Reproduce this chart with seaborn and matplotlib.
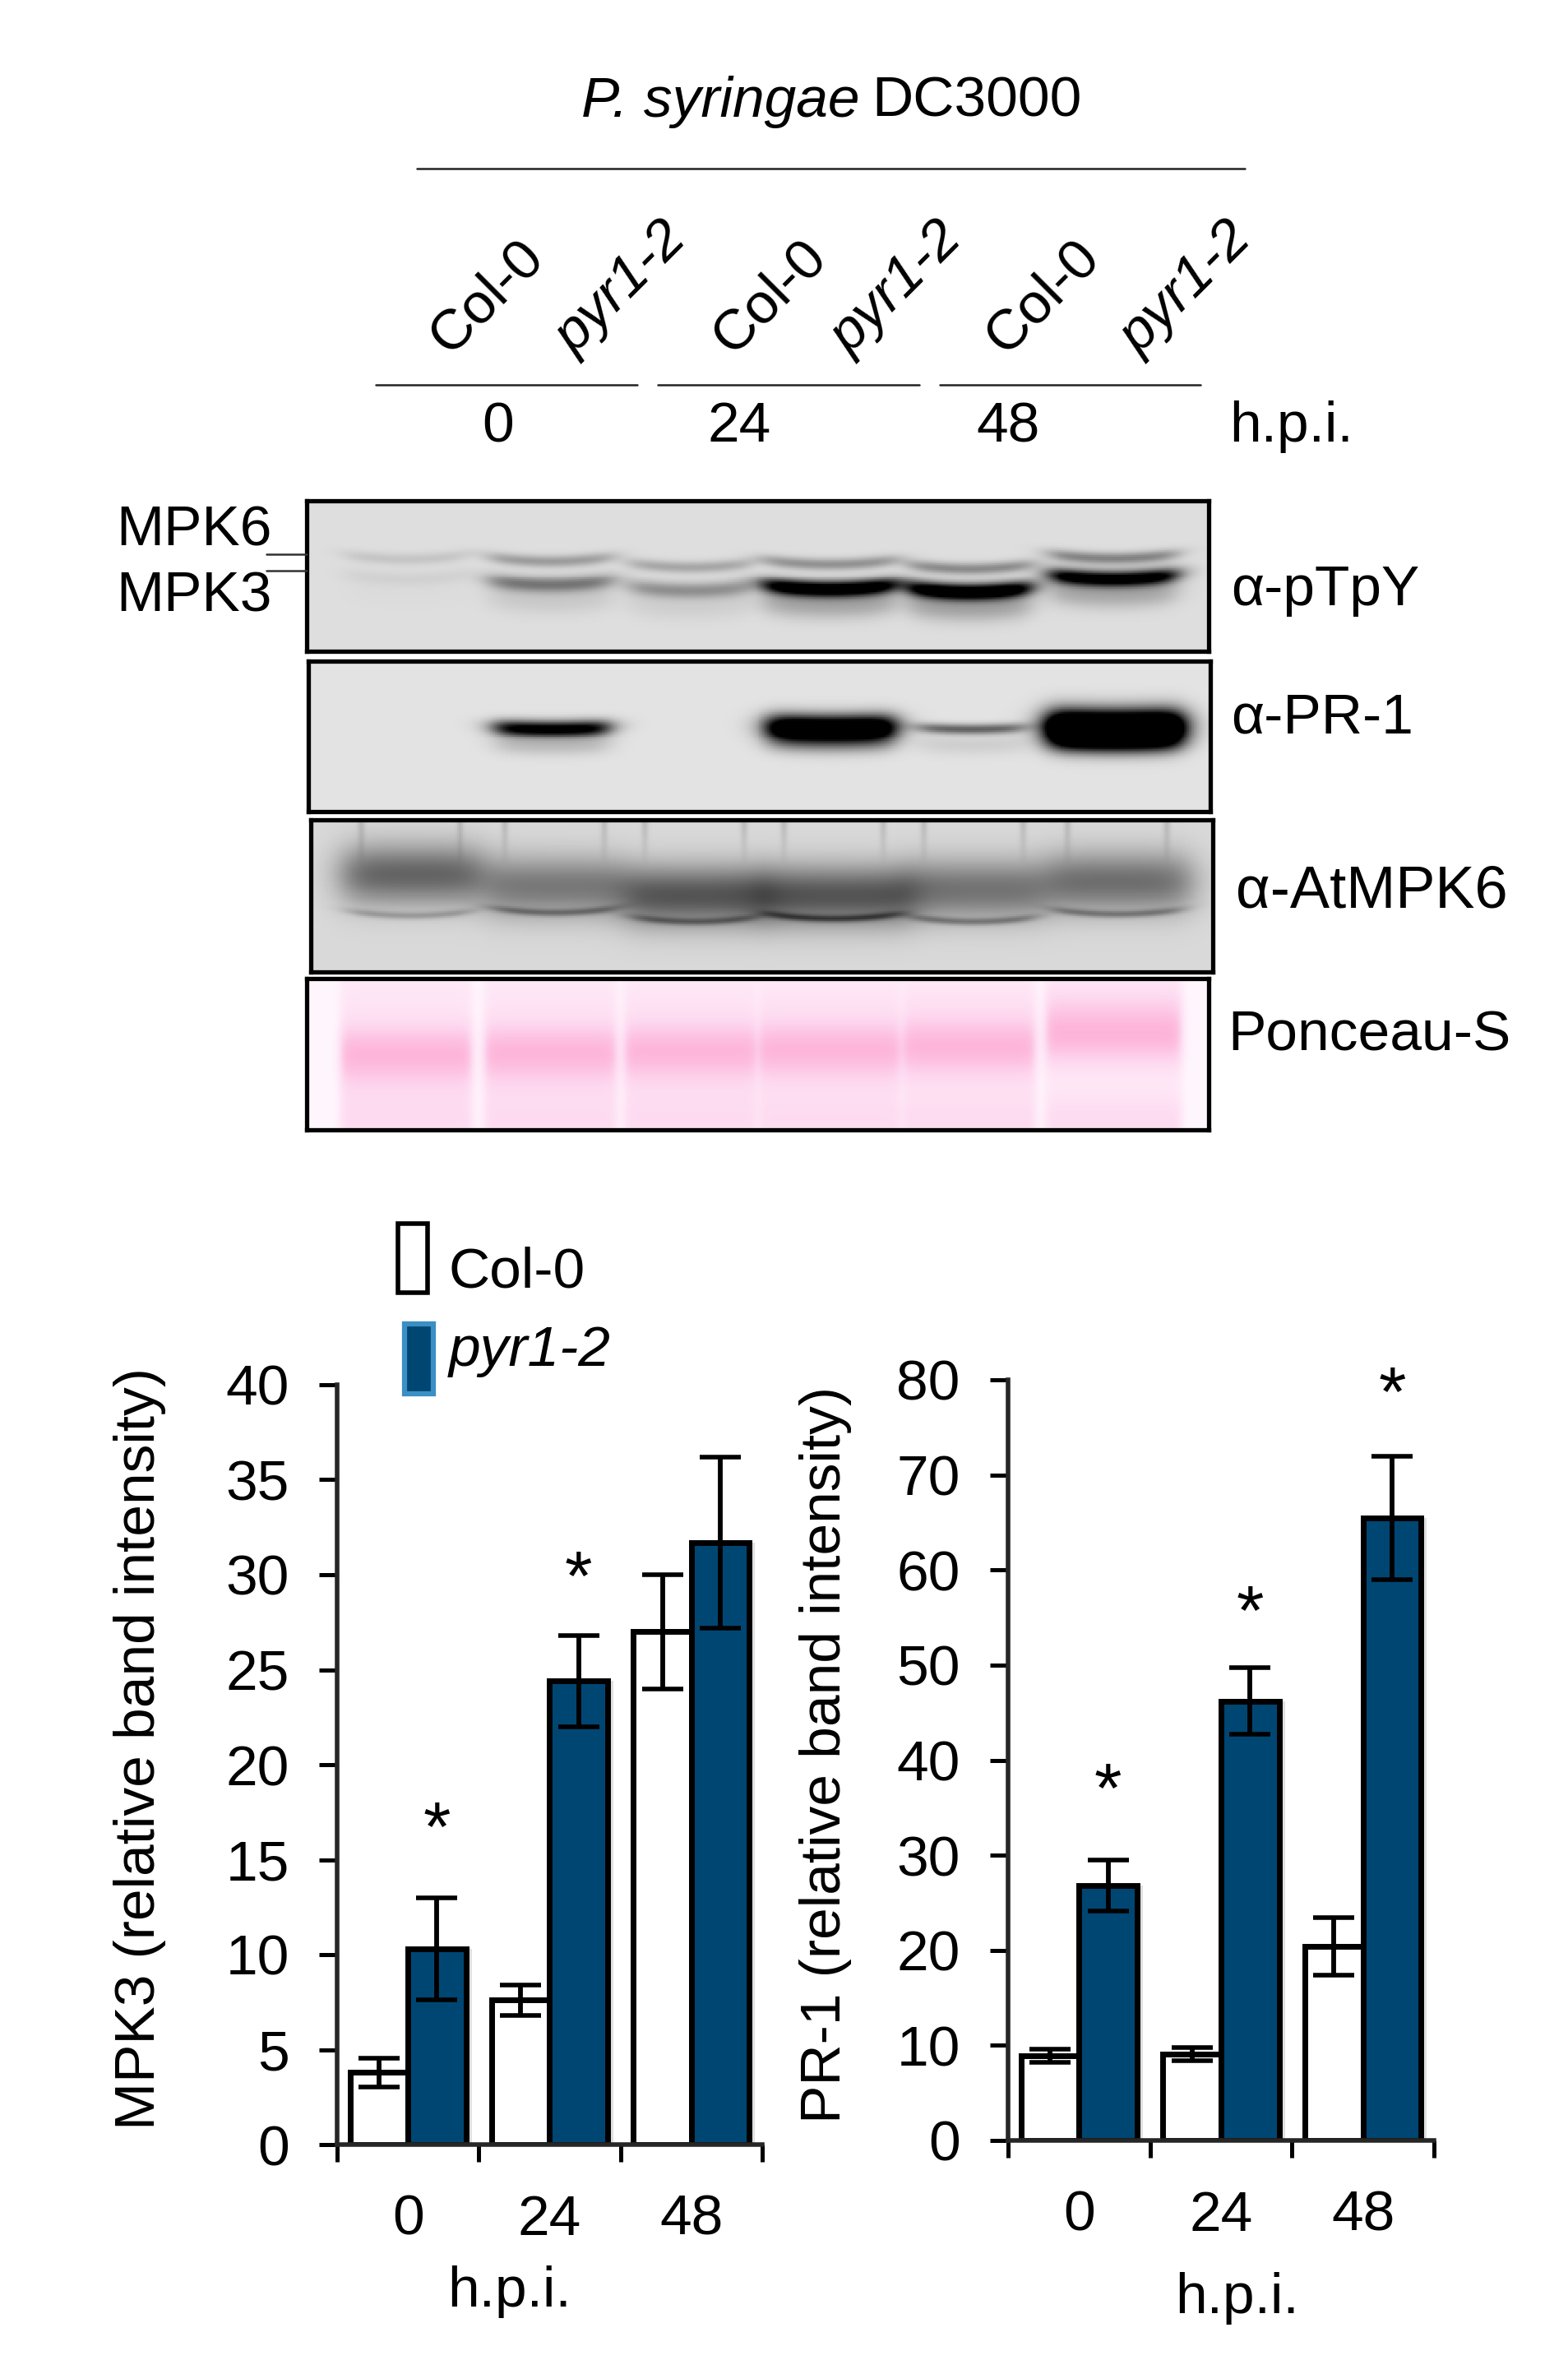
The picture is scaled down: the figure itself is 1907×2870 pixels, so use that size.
import numpy as np
import pandas as pd
import matplotlib
matplotlib.use("Agg")
import matplotlib.pyplot as plt
import matplotlib.patches as mpatches
import matplotlib.patheffects as pe
import seaborn as sns

W, H = 1908, 2870

# ---- bar chart values ----
hpi = ["0", "24", "48"]
genotypes = ["Col-0", "pyr1-2"]
mpk3_col = [3.8, 7.6, 27.0]
mpk3_pyr = [10.3, 24.4, 31.7]
mpk3_col_err = [0.75, 0.8, 3.0]
mpk3_pyr_err = [2.7, 2.4, 4.5]
mpk3_star_y = [16.4, 29.6]
pr1_col = [8.9, 9.1, 20.4]
pr1_pyr = [26.8, 46.2, 65.5]
pr1_col_err = [0.7, 0.7, 3.0]
pr1_pyr_err = [2.7, 3.5, 6.5]
pr1_star_y = [36.4, 55.1, 78.1]
mpk3_ticks = [0, 5, 10, 15, 20, 25, 30, 35, 40]
pr1_ticks = [0, 10, 20, 30, 40, 50, 60, 70, 80]

# ---- blot lanes (fraction of panel width), band strengths read by eye ----
lane_x = [0.11, 0.27, 0.425, 0.58, 0.735, 0.895]
lane_w = [0.135, 0.135, 0.135, 0.145, 0.135, 0.14]
ptpy_upper = [0.10, 0.26, 0.22, 0.30, 0.33, 0.36]
ptpy_upper_y = [0.385, 0.40, 0.44, 0.42, 0.45, 0.38]
ptpy_lower = [0.05, 0.40, 0.30, 1.10, 1.15, 1.05]
ptpy_lower_y = [0.52, 0.56, 0.60, 0.59, 0.61, 0.52]
pr1_band = [0.0, 1.0, 0.0, 1.4, 0.50, 1.9]
pr1_band_w = [0.1, 0.125, 0.1, 0.14, 0.115, 0.15]
pr1_band_s = [0.04, 0.055, 0.04, 0.09, 0.035, 0.12]
mpk6_body = [0.46, 0.38, 0.52, 0.52, 0.40, 0.42]
mpk6_body_y = [0.36, 0.44, 0.50, 0.50, 0.46, 0.41]
mpk6_low = [0.18, 0.26, 0.26, 0.34, 0.26, 0.26]
mpk6_low_y = [0.63, 0.61, 0.67, 0.65, 0.67, 0.62]
ponceau_y = [0.50, 0.49, 0.48, 0.47, 0.45, 0.37]


def px(x, y):
    return x / W, 1 - y / H


def axes_px(fig, x0, y0, x1, y1):
    return fig.add_axes([x0 / W, 1 - y1 / H, (x1 - x0) / W, (y1 - y0) / H])


def band(X, Y, xc, w, yc, sy, amp, curve=0.03, edge=0.017):
    across = 0.5 * (np.tanh((X - (xc - w / 2)) / edge) - np.tanh((X - (xc + w / 2)) / edge))
    yy = yc - curve * ((X - xc) / (w / 2)) ** 2
    return amp * across * np.exp(-((Y - yy) / sy) ** 2)


def grid():
    xs = np.linspace(0, 1, 550)
    ys = np.linspace(0, 1, 92)
    return np.meshgrid(xs, ys)


def draw_blot(fig, box, img, cmap):
    ax = axes_px(fig, *box)
    sns.heatmap(img, ax=ax, cmap=cmap, vmin=0, vmax=1, cbar=False,
                xticklabels=False, yticklabels=False, rasterized=True)
    for s in ax.spines.values():
        s.set_visible(True)
        s.set_linewidth(3.8)
        s.set_color("black")
    return ax


def blot_ptpy():
    X, Y = grid()
    d = np.zeros_like(X)
    for i in range(6):
        d += band(X, Y, lane_x[i], lane_w[i], ptpy_upper_y[i], 0.04, ptpy_upper[i])
        d += band(X, Y, lane_x[i], lane_w[i], ptpy_lower_y[i], 0.055, ptpy_lower[i])
        d += band(X, Y, lane_x[i], lane_w[i], ptpy_lower_y[i] + 0.11, 0.09, 0.2 * ptpy_lower[i])
    return np.clip(0.87 - d, 0, 1)


def blot_pr1():
    X, Y = grid()
    d = np.zeros_like(X)
    for i in range(6):
        d += band(X, Y, lane_x[i], pr1_band_w[i], 0.45, pr1_band_s[i], pr1_band[i], curve=0.012)
        d += band(X, Y, lane_x[i], pr1_band_w[i], 0.56, 0.07, 0.16 * pr1_band[i], curve=0.012)
    return np.clip(0.89 - d, 0, 1)


def blot_mpk6():
    X, Y = grid()
    d = np.zeros_like(X)
    for i in range(6):
        d += band(X, Y, lane_x[i] + 0.002, lane_w[i] + 0.02, mpk6_body_y[i], 0.2, mpk6_body[i],
                  curve=0.0, edge=0.022)
        d += band(X, Y, lane_x[i], lane_w[i], mpk6_low_y[i], 0.024, mpk6_low[i])
        for side in (-0.055, 0.055):
            streak = np.exp(-((X - lane_x[i] - side) / 0.004) ** 2) * np.clip(0.3 - Y, 0, 1) / 0.3
            d += 0.12 * streak
    return np.clip(0.85 - d, 0, 1)


def blot_ponceau():
    X, Y = grid()
    d = np.zeros_like(X)
    for i in range(6):
        w = lane_w[i] + 0.012
        d += band(X, Y, lane_x[i], w, ponceau_y[i], 0.23, 0.85, curve=0.0, edge=0.006)
        d += 0.22 * band(X, Y, lane_x[i], w, 0.08, 0.2, 1.0, curve=0.0, edge=0.006)
        d += 0.42 * band(X, Y, lane_x[i], w, 0.95, 0.24, 1.0, curve=0.0, edge=0.006)
    return np.clip(d, 0, 1)


def bar_panel(fig, box, col, pyr, col_err, pyr_err, ticks, ymax, star_groups, star_y):
    ax = axes_px(fig, *box)
    df = pd.DataFrame({
        "hpi": hpi * 2,
        "genotype": [genotypes[0]] * 3 + [genotypes[1]] * 3,
        "value": list(col) + list(pyr),
    })
    sns.barplot(data=df, x="hpi", y="value", hue="genotype", order=hpi, hue_order=genotypes,
                palette=["white", "#004673"], saturation=1, width=0.82, gap=0, errorbar=None,
                edgecolor="black", linewidth=5, legend=False, ax=ax)
    for b in ax.containers[1]:
        b.set_path_effects([pe.SimplePatchShadow(offset=(5, 0), alpha=0.12, shadow_rgbFace="black"),
                            pe.Normal()])
    for cont, vals, errs in zip(ax.containers, [col, pyr], [col_err, pyr_err]):
        xs = [b.get_x() + b.get_width() / 2 for b in cont]
        ax.errorbar(xs, vals, yerr=errs, fmt="none", ecolor="black", elinewidth=4.2,
                    capsize=18, capthick=4, zorder=5)
    blue_x = [b.get_x() + b.get_width() / 2 for b in ax.containers[1]]
    for g, y in zip(star_groups, star_y):
        ax.text(blue_x[g], y, "*", ha="center", va="center", fontsize=62, color="black")
    ax.set_xlim(-0.5, 2.5)
    ax.set_ylim(0, ymax)
    ax.set_yticks(ticks)
    ax.set_xticks([-0.5, 0.5, 1.5, 2.5])
    ax.set_xticklabels([])
    ax.set_xticks([0, 1, 2], minor=True)
    ax.set_xticklabels(hpi, minor=True)
    ax.tick_params(axis="x", which="major", length=15, width=3.6, direction="out", bottom=True)
    ax.tick_params(axis="x", which="minor", length=0, pad=43, labelsize=50)
    ax.tick_params(axis="y", length=16, width=3.6, left=True, pad=26, labelsize=50)
    ax.set_xlabel("")
    ax.set_ylabel("")
    sns.despine(ax=ax)
    ax.spines["left"].set_linewidth(4)
    ax.spines["bottom"].set_linewidth(4)
    ax.patch.set_alpha(0)
    return ax


sns.set_theme(style="white")
plt.rcParams["font.family"] = ["Liberation Sans", "DejaVu Sans"]
plt.rcParams["xtick.color"] = "black"
plt.rcParams["ytick.color"] = "black"
plt.rcParams["text.color"] = "black"

fig = plt.figure(figsize=(W / 100, H / 100), dpi=100, facecolor="white")

# top header
FS = 50
fig.text(*px(1046, 124), "P. syringae", style="italic", ha="right", va="center", fontsize=FS)
fig.text(*px(1060, 124), "DC3000", ha="left", va="center", fontsize=FS)
fig.add_artist(plt.Line2D([507 / W, 1514 / W], [1 - 205 / H] * 2, color="#222222", lw=1.8))
for x, y, s, st in [(592, 361, "Col-0", "normal"), (756, 351, "pyr1-2", "italic"),
                    (936, 361, "Col-0", "normal"), (1091, 351, "pyr1-2", "italic"),
                    (1268, 361, "Col-0", "normal"), (1443, 351, "pyr1-2", "italic")]:
    fig.text(*px(x, y), s, style=st, rotation=45, ha="center", va="center", fontsize=FS)
for x0, x1 in [(457, 775), (800, 1118), (1143, 1460)]:
    fig.add_artist(plt.Line2D([x0 / W, x1 / W], [1 - 468 / H] * 2, color="#222222", lw=1.8))
for x, s in [(606, "0"), (899, "24"), (1226, "48"), (1571, "h.p.i.")]:
    fig.text(*px(x, 519), s, ha="center", va="center", fontsize=FS)

# blots
pink = sns.blend_palette(["#fff6fd", "#fdd6ee", "#fdaad2"], as_cmap=True)
draw_blot(fig, (373, 609, 1470, 792), blot_ptpy(), "gray")
draw_blot(fig, (375, 804, 1472, 987), blot_pr1(), "gray")
draw_blot(fig, (378, 997, 1475, 1182), blot_mpk6(), "gray")
draw_blot(fig, (373, 1190, 1470, 1374), blot_ponceau(), pink)

fig.text(*px(236, 645), "MPK6", ha="center", va="center", fontsize=FS)
fig.text(*px(236, 725), "MPK3", ha="center", va="center", fontsize=FS)
for y in (674, 694):
    fig.add_artist(plt.Line2D([324 / W, 373 / W], [1 - y / H] * 2, color="#333333", lw=1.8))
for x, y, s, fs in [(1612, 718, "α-pTpY", 50), (1608, 874, "α-PR-1", 50),
                    (1668, 1085, "α-AtMPK6", 52), (1665, 1260, "Ponceau-S", 50)]:
    fig.text(*px(x, y), s, ha="center", va="center", fontsize=fs)

# bar charts
bar_panel(fig, (410, 1684, 927, 2608), mpk3_col, mpk3_pyr, mpk3_col_err, mpk3_pyr_err,
          mpk3_ticks, 40, [0, 1], mpk3_star_y)
bar_panel(fig, (1226, 1678, 1744, 2603), pr1_col, pr1_pyr, pr1_col_err, pr1_pyr_err,
          pr1_ticks, 80, [0, 1, 2], pr1_star_y)

fig.text(*px(170, 2127), "MPK3 (relative band intensity)", rotation=90, ha="center", va="center", fontsize=50)
fig.text(*px(1004, 2134), "PR-1 (relative band intensity)", rotation=90, ha="center", va="center", fontsize=50)
fig.text(*px(620, 2787), "h.p.i.", ha="center", va="center", fontsize=50)
fig.text(*px(1505, 2795), "h.p.i.", ha="center", va="center", fontsize=50)

# legend drawn by hand
fig.add_artist(mpatches.Rectangle((484 / W, 1 - 1572 / H), 36 / W, 84 / H, transform=fig.transFigure,
                                  facecolor="white", edgecolor="black", lw=4))
fig.add_artist(mpatches.Rectangle((492 / W, 1 - 1695 / H), 35 / W, 85 / H, transform=fig.transFigure,
                                  facecolor="#004673", edgecolor="#3a8fc4", lw=4.5))
fig.text(*px(546, 1547), genotypes[0], ha="left", va="center", fontsize=50)
fig.text(*px(546, 1643), genotypes[1], style="italic", ha="left", va="center", fontsize=50)

fig.savefig("out.png", dpi=100)
